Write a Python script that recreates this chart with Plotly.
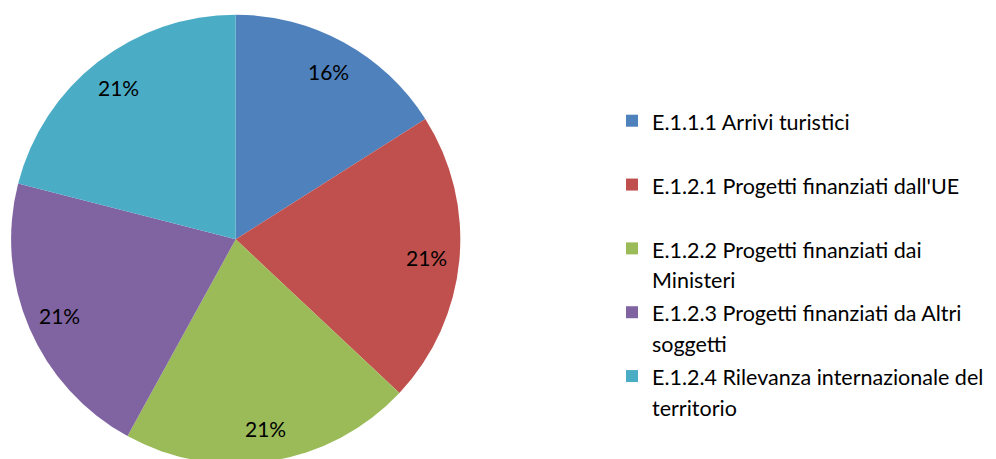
import math
import plotly.graph_objects as go

categories = [
    "E.1.1.1 Arrivi turistici",
    "E.1.2.1 Progetti finanziati dall'UE",
    "E.1.2.2 Progetti finanziati dai<br>Ministeri",
    "E.1.2.3 Progetti finanziati da Altri<br>soggetti",
    "E.1.2.4 Rilevanza internazionale del<br>territorio",
]
values = [16, 21, 21, 21, 21]
colors = ["#4F81BD", "#C0504D", "#9BBB59", "#8064A2", "#4BACC6"]

W, H = 996, 459
FONT = "Lato"
LEG_TXT = 21.5
PIE_TXT = 21

# pie domain in pixels (figure coordinates)
cx_px, cy_px, r_px = 227.7, 231.3, 224.6
dom_x = [(cx_px - r_px) / W, (cx_px + r_px) / W]
dom_y = [1 - (cy_px + r_px) / H, 1 - (cy_px - r_px) / H]


def legend_label(s):
    # every legend entry occupies two text lines, as in the reference
    lines = s.split("<br>")
    if len(lines) == 1:
        lines.append(" ")
    lines[0] = lines[0] + "&nbsp;&nbsp;"
    return "<br>".join(
        f'<span style="font-size:{LEG_TXT}px">{ln}</span>' for ln in lines
    )


labels = [legend_label(c) for c in categories]

fig = go.Figure(
    go.Pie(
        labels=labels,
        values=values,
        sort=False,
        direction="clockwise",
        rotation=0,
        marker=dict(colors=colors, line=dict(width=0)),
        textinfo="none",
        textposition="none",
        domain=dict(x=dom_x, y=dom_y),
        hoverinfo="label+percent",
    )
)

# percentage labels placed along each slice's mid-angle (Excel style)
total = sum(values)
cum = 0.0
annotations = []
for v in values:
    mid = (cum + v / 2) / total * 2 * math.pi
    cum += v
    rr = 0.855 * r_px
    px = cx_px + rr * math.sin(mid)
    py = cy_px - rr * math.cos(mid)
    annotations.append(
        dict(
            x=px / W,
            y=1 - py / H,
            xref="paper",
            yref="paper",
            text=f"{round(v / total * 100)}%",
            showarrow=False,
            font=dict(family=FONT, size=PIE_TXT, color="black"),
            xanchor="center",
            yanchor="middle",
        )
    )

fig.update_layout(
    width=W,
    height=H,
    margin=dict(l=0, r=0, t=0, b=0),
    paper_bgcolor="white",
    plot_bgcolor="white",
    font=dict(family=FONT, color="black"),
    showlegend=True,
    annotations=annotations,
    legend=dict(
        x=604 / W,
        xanchor="left",
        y=1 - 91 / H,
        yanchor="top",
        font=dict(family=FONT, size=23.4, color="black"),
        valign="top",
        bgcolor="rgba(0,0,0,0)",
        borderwidth=0,
        tracegroupgap=0,
    ),
)

fig.write_html("out.html")
